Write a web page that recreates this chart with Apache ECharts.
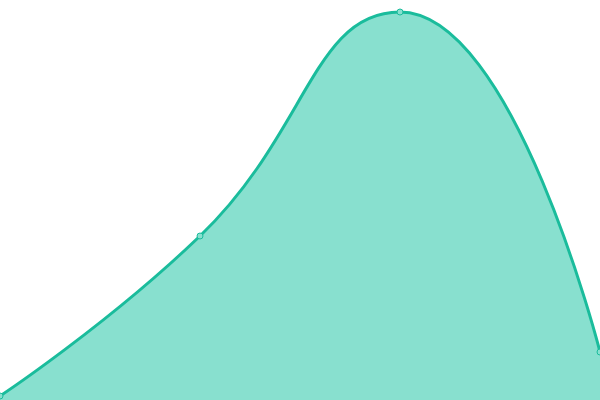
<!DOCTYPE html>
<html><head><meta charset="utf-8">
<script src="https://cdn.jsdelivr.net/npm/echarts@6/dist/echarts.min.js"></script>
<style>html,body{margin:0;padding:0;background:#fff}#c{width:600px;height:400px}</style>
</head><body><div id="c"></div>
<script>
const categories = ['A', 'B', 'C', 'D'];
const values = [1, 41, 97, 12];
const chart = echarts.init(document.getElementById('c'), null, {renderer: 'canvas'});
chart.setOption({
  animation: false,
  grid: {left: 0, right: 0, top: 0, bottom: 0},
  xAxis: {type: 'category', data: categories, boundaryGap: false, show: false},
  yAxis: {type: 'value', min: 0, max: 100, show: false},
  series: [{
    type: 'line',
    data: values,
    smooth: true,
    symbol: 'circle',
    symbolSize: 6,
    lineStyle: {color: '#1abc9c', width: 3},
    itemStyle: {color: '#88e0cf', borderColor: '#1abc9c', borderWidth: 1},
    areaStyle: {color: '#88e0cf', opacity: 1}
  }]
});
</script></body></html>
